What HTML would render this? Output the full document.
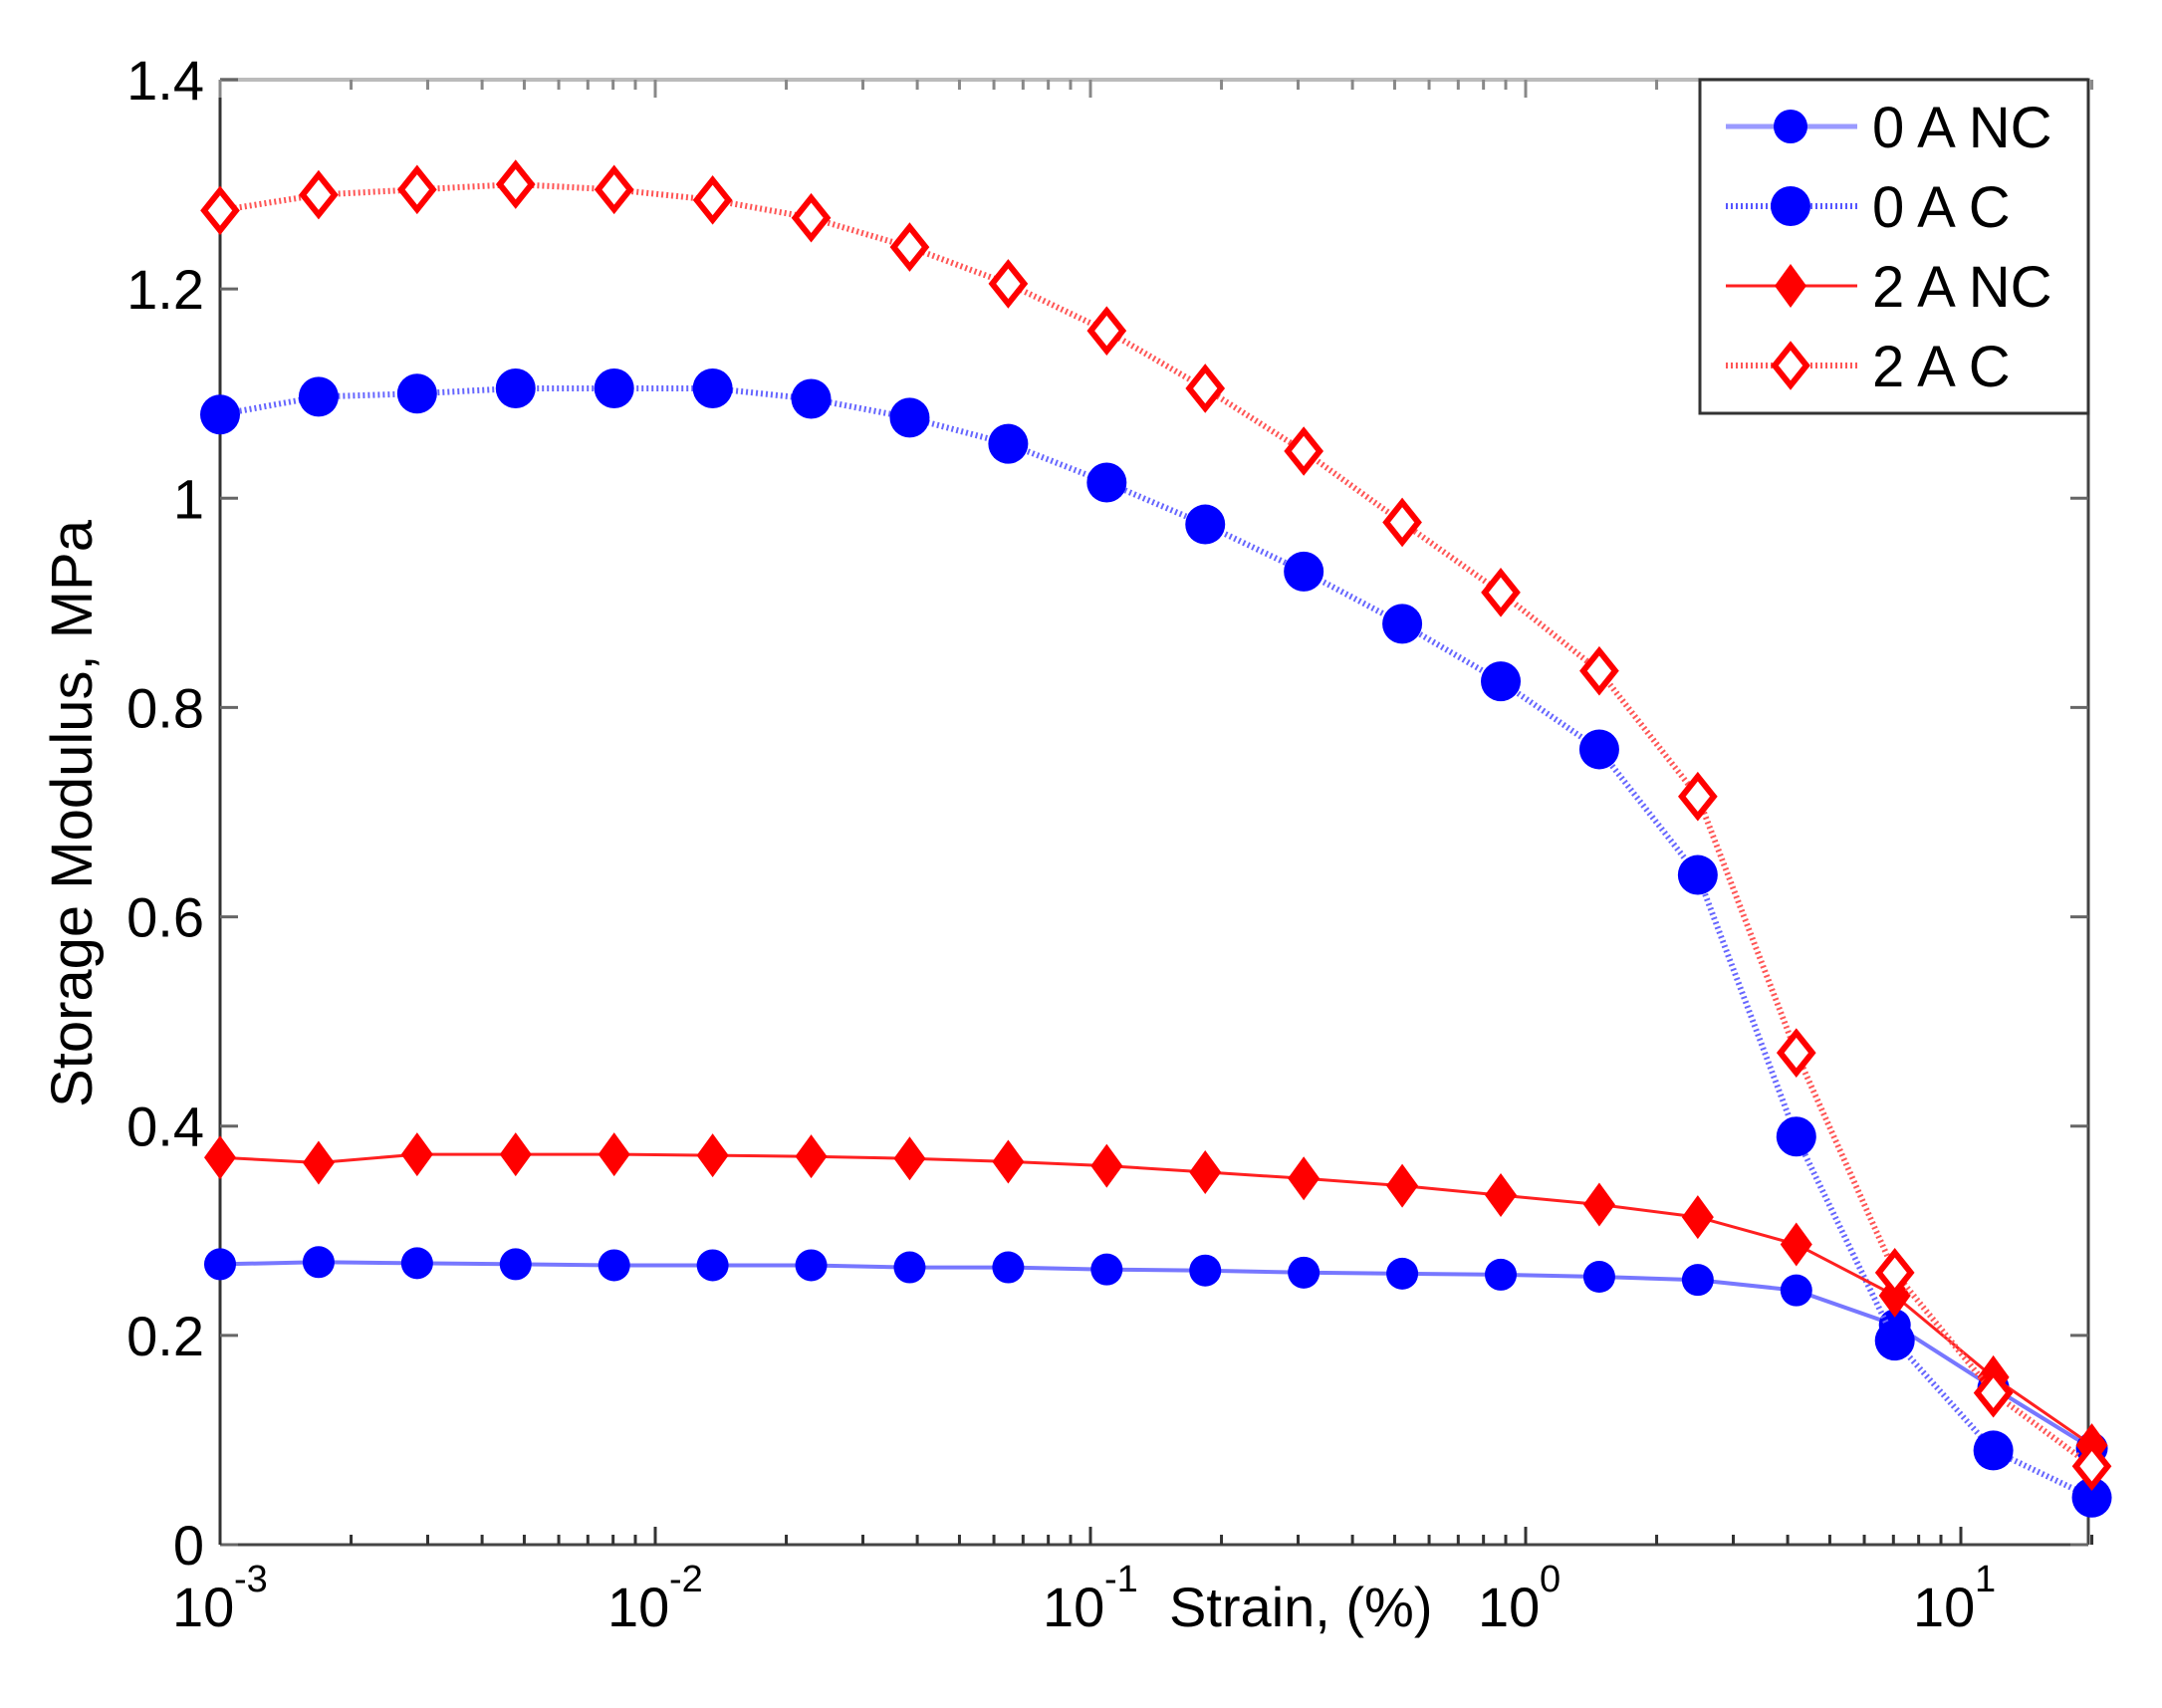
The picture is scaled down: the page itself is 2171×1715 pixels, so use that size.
<!DOCTYPE html>
<html><head><meta charset="utf-8"><style>
html,body{margin:0;padding:0;background:#fff;}
svg{display:block;font-family:"Liberation Sans",Arial,sans-serif;}
</style></head><body>
<svg id="s" width="2171" height="1715" viewBox="0 0 2171 1715" xmlns="http://www.w3.org/2000/svg">
<rect width="2171" height="1715" fill="#fff"/>
<g id="axes"></g>
<g id="data"></g>
<g id="leg">
<rect x="1707" y="80" width="390" height="335" fill="#fff" stroke="#333" stroke-width="3"/>
<line x1="1733" y1="127" x2="1865" y2="127" stroke="#9a9aff" stroke-width="5"/>
<circle cx="1798" cy="127" r="17" fill="#0000ff"/>
<line x1="1733" y1="207" x2="1865" y2="207" stroke="#5555ff" stroke-width="6" stroke-dasharray="2 3"/>
<circle cx="1798" cy="207" r="20" fill="#0000ff"/>
<line x1="1733" y1="287" x2="1865" y2="287" stroke="#ff2020" stroke-width="3"/>
<polygon points="1798,265 1814,287 1798,309 1782,287" fill="#ff0000"/>
<line x1="1733" y1="367" x2="1865" y2="367" stroke="#ff5555" stroke-width="6" stroke-dasharray="2 3"/>
<polygon points="1798,347 1814,367 1798,387 1782,367" fill="#fff" stroke="#ff0000" stroke-width="6"/>
<text x="1880" y="148" font-size="58">0 A NC</text>
<text x="1880" y="228" font-size="58">0 A C</text>
<text x="1880" y="308" font-size="58">2 A NC</text>
<text x="1880" y="388" font-size="58">2 A C</text>
</g>
</svg>
<script>
var X0=221,X1=2097,Y0=1551,Y1=80,DEC=437;
function px(v){return X0+(Math.log10(v)+3)*DEC;}
function py(v){return Y0-(v/1.4)*(Y0-Y1);}
var NS="http://www.w3.org/2000/svg";
function el(p,t,a,txt){var e=document.createElementNS(NS,t);for(var k in a)e.setAttribute(k,a[k]);if(txt!=null)e.textContent=txt;p.appendChild(e);return e;}
var ax=document.getElementById('axes');
el(ax,'line',{x1:X0,y1:Y1,x2:X1,y2:Y1,stroke:'#bbb','stroke-width':4});
el(ax,'line',{x1:X1,y1:Y1,x2:X1,y2:Y0,stroke:'#444','stroke-width':3});
el(ax,'line',{x1:X0,y1:Y0,x2:X1,y2:Y0,stroke:'#444','stroke-width':3});
el(ax,'line',{x1:X0,y1:Y1,x2:X0,y2:Y0,stroke:'#333','stroke-width':3});
for(var i=0;i<=7;i++){var v=i*0.2,y=py(v);
 el(ax,'line',{x1:X0,y1:y,x2:X0+18,y2:y,stroke:'#666','stroke-width':3});
 el(ax,'line',{x1:X1,y1:y,x2:X1-18,y2:y,stroke:'#666','stroke-width':3});
 var lab=(i==0?'0':(i==5?'1':v.toFixed(1)));
 el(ax,'text',{x:205,y:y+20,'font-size':56,'text-anchor':'end'},lab);}
for(var d=-3;d<=1;d++){for(var m=1;m<=9;m++){var v=m*Math.pow(10,d);if(v>20.1)break;var x=px(v);var L=(m==1?18:10);
 el(ax,'line',{x1:x,y1:Y0,x2:x,y2:Y0-L,stroke:'#333','stroke-width':3});
 el(ax,'line',{x1:x,y1:Y1,x2:x,y2:Y1+L,stroke:'#888','stroke-width':3});}
 var x=px(Math.pow(10,d));
 var t=el(ax,'text',{x:x-48,y:1633,'font-size':56});
 t.textContent='10';
 el(ax,'text',{x:x+14,y:1598,'font-size':38},(d<0?'-':'')+Math.abs(d));}
el(ax,'text',{x:1174,y:1633,'font-size':56},'Strain, (%)');
el(ax,'text',{x:0,y:0,'font-size':58,'text-anchor':'middle',transform:'translate(92,817) rotate(-90)'},'Storage Modulus, MPa');
var xs=[];for(var i=0;i<20;i++)xs.push(Math.pow(10,-3+i*Math.log10(20000)/19));
var AC2=[1.275,1.29,1.295,1.30,1.295,1.285,1.268,1.24,1.205,1.16,1.105,1.045,0.977,0.91,0.835,0.715,0.47,0.26,0.145,0.075];
var AC0=[1.08,1.097,1.10,1.105,1.105,1.105,1.095,1.077,1.052,1.015,0.975,0.93,0.88,0.825,0.76,0.64,0.39,0.195,0.09,0.045];
var NC2=[0.37,0.365,0.373,0.373,0.373,0.372,0.371,0.369,0.366,0.362,0.356,0.35,0.343,0.334,0.325,0.313,0.287,0.238,0.16,0.095];
var NC0=[0.268,0.27,0.269,0.268,0.267,0.267,0.267,0.265,0.265,0.263,0.262,0.26,0.259,0.258,0.256,0.253,0.243,0.21,0.15,0.092];
var dg=document.getElementById('data');
function pts(a){return a.map(function(v,i){return px(xs[i]).toFixed(1)+','+py(v).toFixed(1);}).join(' ');}
function series(a,col,w,dash,mk){
 var at={points:pts(a),fill:'none',stroke:col,'stroke-width':w};if(dash)at['stroke-dasharray']=dash;
 el(dg,'polyline',at);
 a.forEach(function(v,i){var x=px(xs[i]),y=py(v);
  if(mk=='c')el(dg,'circle',{cx:x,cy:y,r:16,fill:'#0000ff'});
  if(mk=='C')el(dg,'circle',{cx:x,cy:y,r:20,fill:'#0000ff'});
  if(mk=='d')el(dg,'polygon',{points:x+','+(y-22)+' '+(x+16)+','+y+' '+x+','+(y+22)+' '+(x-16)+','+y,fill:'#ff0000'});
  if(mk=='D')el(dg,'polygon',{points:x+','+(y-20)+' '+(x+16)+','+y+' '+x+','+(y+20)+' '+(x-16)+','+y,fill:'#fff',stroke:'#ff0000','stroke-width':6});
 });}
series(NC0,'#7777ff',4,null,'c');
series(AC0,'#6666ff',6,'2 3','C');
series(NC2,'#ff2020',3,null,'d');
series(AC2,'#ff5555',6,'2 3','D');
</script>
</body></html>
